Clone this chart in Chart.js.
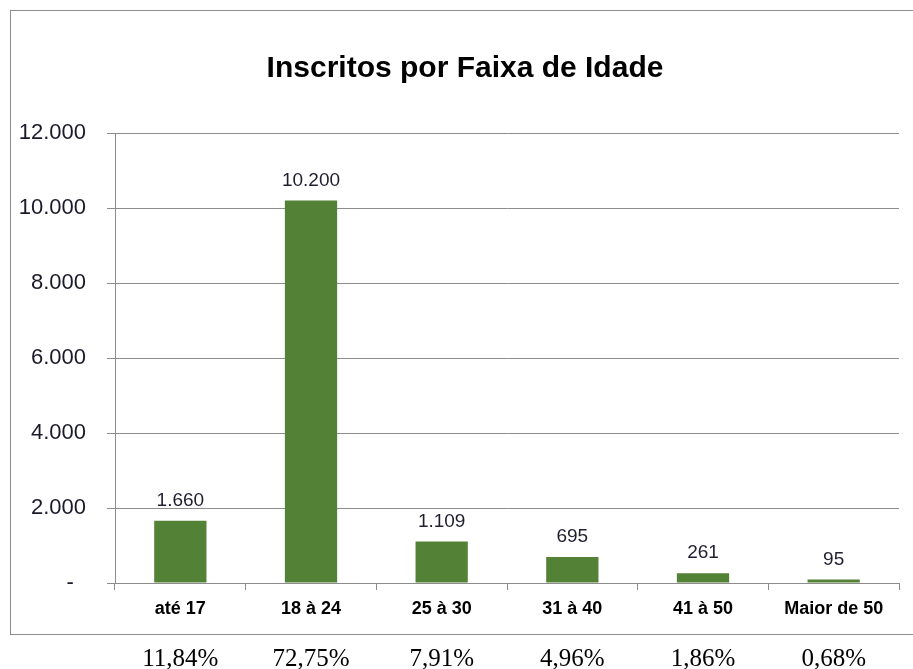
<!DOCTYPE html>
<html>
<head>
<meta charset="utf-8">
<script src="https://cdn.jsdelivr.net/npm/chart.js@4"></script>
<style>
  html, body { margin: 0; padding: 0; background: #fff; }
  #wrap { width: 913px; height: 669px; }
</style>
</head>
<body>
<div id="wrap"><canvas id="grafico" width="913" height="669"></canvas></div>
<script>
const titulo = 'Inscritos por Faixa de Idade';
const faixas = ['até 17', '18 à 24', '25 à 30', '31 à 40', '41 à 50', 'Maior de 50'];
const inscritos = [1660, 10200, 1109, 695, 261, 95];
const percentuais = ['11,84%', '72,75%', '7,91%', '4,96%', '1,86%', '0,68%'];
const ticksY = [0, 2000, 4000, 6000, 8000, 10000, 12000];

// formato brasileiro: 10.200
const fmt = v => String(v).replace(/\B(?=(\d{3})+(?!\d))/g, '.');

// moldura, título, rótulos de valor e percentuais embaixo
const extras = {
  id: 'extras',
  afterDraw(chart) {
    const ctx = chart.ctx;
    const x = chart.scales.x;
    ctx.save();
    ctx.strokeStyle = '#8c8c8c';
    ctx.lineWidth = 1;
    ctx.strokeRect(10.5, 10.5, 910, 624);

    ctx.fillStyle = '#000';
    ctx.textAlign = 'center';
    ctx.textBaseline = 'alphabetic';
    ctx.font = 'bold 30px "Liberation Sans"';
    ctx.fillText(titulo, 465, 77);

    const meta = chart.getDatasetMeta(0);
    ctx.fillStyle = '#1f1f2f';
    ctx.font = '19px "Liberation Sans"';
    ctx.textBaseline = 'middle';
    meta.data.forEach((bar, i) => {
      ctx.fillText(fmt(inscritos[i]), bar.x, bar.y - 20);
    });

    ctx.fillStyle = '#000';
    ctx.font = '25px "Liberation Serif"';
    percentuais.forEach((p, i) => {
      ctx.fillText(p, x.getPixelForValue(i), 659);
    });
    ctx.restore();
  }
};

new Chart(document.getElementById('grafico').getContext('2d'), {
  type: 'bar',
  data: {
    labels: faixas,
    datasets: [{
      data: inscritos,
      backgroundColor: '#538135',
      borderWidth: 0,
      barPercentage: 0.4,
      categoryPercentage: 1
    }]
  },
  options: {
    responsive: false,
    animation: false,
    layout: { padding: { left: 10, right: 14, top: 133, bottom: 34 } },
    plugins: {
      legend: { display: false },
      tooltip: { enabled: false },
      title: { display: false }
    },
    scales: {
      x: {
        afterFit: s => { s.height = 52; },
        grid: { offset: true, drawOnChartArea: false, drawTicks: true, tickLength: 7, color: '#8c8c8c' },
        border: { color: '#8c8c8c' },
        ticks: {
          color: '#000',
          padding: 8,
          font: { family: 'Liberation Sans', size: 18, weight: 'bold' }
        }
      },
      y: {
        min: 0,
        max: 12000,
        afterFit: s => { s.width = 105; },
        afterBuildTicks: s => { s.ticks = ticksY.map(v => ({ value: v })); },
        grid: { color: '#8c8c8c', tickLength: 8 },
        border: { color: '#8c8c8c' },
        ticks: {
          color: '#1a1a2a',
          padding: 21,
          font: { family: 'Liberation Sans', size: 22 },
          callback: v => v === 0 ? '-  ' : fmt(v)
        }
      }
    }
  },
  plugins: [extras]
});
</script>
</body>
</html>
